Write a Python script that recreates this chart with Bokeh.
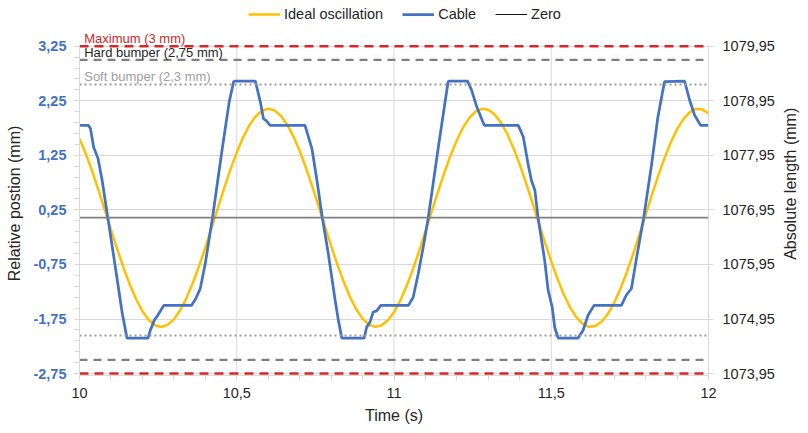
import math
from bokeh.plotting import figure
from bokeh.layouts import column, row
from bokeh.models import (Range1d, LinearAxis, FixedTicker, CustomJSTickFormatter,
                          Legend, LegendItem, Label)
from bokeh.core.properties import value
from bokeh.embed import file_html
from bokeh.resources import INLINE

# ---------------- data ----------------
ideal_t = [10.00, 10.02, 10.04, 10.06, 10.08, 10.10, 10.12, 10.14, 10.16, 10.18,
           10.20, 10.22, 10.24, 10.26, 10.28, 10.30, 10.32, 10.34, 10.36, 10.38,
           10.40, 10.42, 10.44, 10.46, 10.48, 10.50, 10.52, 10.54, 10.56, 10.58,
           10.60, 10.62, 10.64, 10.66, 10.68, 10.70, 10.72, 10.74, 10.76, 10.78,
           10.80, 10.82, 10.84, 10.86, 10.88, 10.90, 10.92, 10.94, 10.96, 10.98,
           11.00, 11.02, 11.04, 11.06, 11.08, 11.10, 11.12, 11.14, 11.16, 11.18,
           11.20, 11.22, 11.24, 11.26, 11.28, 11.30, 11.32, 11.34, 11.36, 11.38,
           11.40, 11.42, 11.44, 11.46, 11.48, 11.50, 11.52, 11.54, 11.56, 11.58,
           11.60, 11.62, 11.64, 11.66, 11.68, 11.70, 11.72, 11.74, 11.76, 11.78,
           11.80, 11.82, 11.84, 11.86, 11.88, 11.90, 11.92, 11.94, 11.96, 11.98,
           12.00]
ideal_pos = [1.556, 1.279, 0.964, 0.619, 0.257, -0.110, -0.470, -0.810, -1.120, -1.388,
             -1.606, -1.767, -1.864, -1.895, -1.858, -1.756, -1.590, -1.367, -1.095, -0.783,
             -0.440, -0.079, 0.288, 0.649, 0.992, 1.304, 1.576, 1.800, 1.965, 2.068,
             2.105, 2.074, 1.977, 1.817, 1.599, 1.331, 1.022, 0.681, 0.321, -0.046,
             -0.408, -0.753, -1.068, -1.345, -1.572, -1.743, -1.852, -1.894, -1.870, -1.778,
             -1.624, -1.411, -1.146, -0.840, -0.502, -0.143, 0.224, 0.587, 0.934, 1.252,
             1.532, 1.764, 1.941, 2.055, 2.103, 2.085, 1.999, 1.850, 1.642, 1.382,
             1.078, 0.742, 0.385, 0.018, -0.345, -0.694, -1.016, -1.300, -1.536, -1.718,
             -1.837, -1.892, -1.879, -1.799, -1.655, -1.452, -1.195, -0.896, -0.563, -0.207,
             0.159, 0.524, 0.875, 1.199, 1.487, 1.728, 1.914, 2.039, 2.100, 2.093,
             2.019]

cable_t = [10.000, 10.028, 10.035, 10.045, 10.059, 10.072, 10.090, 10.114, 10.136, 10.151,
           10.218, 10.225, 10.238, 10.249, 10.268, 10.356, 10.370, 10.384, 10.400, 10.423,
           10.453, 10.476, 10.490, 10.493, 10.559, 10.575, 10.585, 10.593, 10.606, 10.717,
           10.739, 10.755, 10.772, 10.791, 10.813, 10.823, 10.834, 10.905, 10.913, 10.924,
           10.934, 10.945, 10.958, 11.046, 11.061, 11.077, 11.093, 11.109, 11.141, 11.172,
           11.175, 11.234, 11.247, 11.263, 11.287, 11.395, 11.411, 11.426, 11.437, 11.448,
           11.458, 11.479, 11.490, 11.503, 11.511, 11.522, 11.585, 11.601, 11.617, 11.636,
           11.723, 11.739, 11.755, 11.770, 11.794, 11.818, 11.839, 11.860, 11.924, 11.940,
           11.956, 11.975, 12.000]
cable_pos = [1.80, 1.80, 1.74, 1.40, 1.19, 0.79, 0.11, -0.80, -1.65, -2.10,
             -2.10, -1.96, -1.77, -1.68, -1.50, -1.50, -1.375, -1.19, -0.73, 0.11,
             1.34, 2.23, 2.60, 2.61, 2.61, 2.23, 1.92, 1.89, 1.80, 1.80,
             1.375, 0.79, 0.11, -0.55, -1.41, -1.77, -2.10, -2.10, -1.90, -1.80,
             -1.62, -1.60, -1.50, -1.50, -1.35, -0.92, -0.43, 0.11, 1.40, 2.60,
             2.61, 2.61, 2.44, 2.14, 1.80, 1.80, 1.59, 1.10, 0.79, 0.61,
             0.11, -0.67, -1.22, -1.53, -1.90, -2.10, -2.10, -1.96, -1.68, -1.50,
             -1.50, -1.31, -1.19, -0.67, 0.11, 1.04, 1.95, 2.60, 2.61, 2.26,
             1.985, 1.80, 1.80]

time_span = [10.0, 12.0]
zero_level = 0.11
bumper_center = 0.25
limit_names = ["Maximum  (3 mm)", "Hard bumper (2,75 mm)", "Soft bumper (2,3 mm)"]
limit_half = [3.0, 2.75, 2.3]
series_names = ["Ideal oscillation", "Cable", "Zero"]

left_ticks = [-2.75, -1.75, -0.75, 0.25, 1.25, 2.25, 3.25]
left_minor = [-2.75, -2.55, -2.35, -2.15, -1.95, -1.75, -1.55, -1.35, -1.15, -0.95,
              -0.75, -0.55, -0.35, -0.15, 0.05, 0.25, 0.45, 0.65, 0.85, 1.05,
              1.25, 1.45, 1.65, 1.85, 2.05, 2.25, 2.45, 2.65, 2.85, 3.05, 3.25]
right_ticks = [1073.95, 1074.95, 1075.95, 1076.95, 1077.95, 1078.95, 1079.95]
x_ticks = [10.0, 10.5, 11.0, 11.5, 12.0]
x_minor = [10.0, 10.1, 10.2, 10.3, 10.4, 10.5, 10.6, 10.7, 10.8, 10.9, 11.0,
           11.1, 11.2, 11.3, 11.4, 11.5, 11.6, 11.7, 11.8, 11.9, 12.0]
right_title = "Absolute length (mm)"

# ---------------- styles ----------------
FONT = "Liberation Sans"
TXT = "#262626"
GRID = "#D9D9D9"
YELLOW = "#FFC000"
BLUE = "#4472C4"
RED = "#D92626"
ZERO_GRAY = "#808080"
limit_colors = [RED, "#7F7F7F", "#9A9A9A"]
limit_text_colors = ["#D01F1F", "#262626", "#A0A0A0"]
limit_dash = ["9 6", "8 6", "2 3"]
limit_width = [2.5, 2.25, 2.0]
HEAD = 0.27    # room above the top tick for the top label
FOOT = 0.035   # tiny room below the bottom tick so the bottom line is not cut

LEG_H = 31
MAIN_W, MAIN_H = 780, 402
STRIP_W = 28

y_lo = left_ticks[0] - FOOT
y_hi = left_ticks[-1] + HEAD
shift = right_ticks[0] - left_ticks[0]

# ---------------- main chart ----------------
p = figure(width=MAIN_W, height=MAIN_H,
           x_range=Range1d(time_span[0], time_span[1]),
           y_range=Range1d(y_lo, y_hi),
           output_backend="svg", toolbar_location=None,
           min_border_left=79, min_border_right=72,
           min_border_top=0, min_border_bottom=58)
p.extra_y_ranges = {"abs": Range1d(y_lo + shift, y_hi + shift)}
p.outline_line_color = None
p.background_fill_color = "white"
p.border_fill_color = "white"
p.xgrid.visible = False

p.segment(x0=x_ticks, y0=[left_ticks[0]] * len(x_ticks),
          x1=x_ticks, y1=[left_ticks[-1]] * len(x_ticks),
          line_color=GRID, line_width=1)

p.line(ideal_t, ideal_pos, line_color=YELLOW, line_width=2.5)
p.line(cable_t, cable_pos, line_color=BLUE, line_width=2.75)

for half, col, dash, w in zip(limit_half, limit_colors, limit_dash, limit_width):
    for lvl in (bumper_center + half, bumper_center - half):
        p.line(time_span, [lvl, lvl], line_color=col, line_dash=dash, line_width=w)

p.line(time_span, [zero_level, zero_level], line_color=ZERO_GRAY, line_width=1.75)

for name, half, tcol in zip(limit_names, limit_half, limit_text_colors):
    p.add_layout(Label(x=time_span[0] + 0.015, y=bumper_center + half, text=name,
                       text_baseline="bottom", text_align="left",
                       text_font=FONT, text_font_size="13px", text_color=tcol))

xa = p.xaxis[0]
xa.ticker = FixedTicker(ticks=x_ticks, minor_ticks=x_minor)
xa.formatter = CustomJSTickFormatter(code="return String(Math.round(tick*10)/10).replace('.', ',');")
xa.axis_label = "Time (s)"

ya = p.yaxis[0]
ya.ticker = FixedTicker(ticks=left_ticks, minor_ticks=left_minor)
ya.formatter = CustomJSTickFormatter(code="return tick.toFixed(2).replace('.', ',');")
ya.axis_label = "Relative postion (mm)"
ya.major_label_text_color = BLUE
ya.major_label_text_font_style = "bold"
ya.bounds = (y_lo, left_ticks[-1])

ra = LinearAxis(y_range_name="abs")
ra.ticker = FixedTicker(ticks=right_ticks, minor_ticks=[])
ra.formatter = CustomJSTickFormatter(code="return tick.toFixed(2).replace('.', ',');")
ra.bounds = (y_lo + shift, right_ticks[-1])
p.add_layout(ra, "right")

for ax in (xa, ya, ra):
    ax.axis_line_color = GRID
    ax.major_tick_line_color = GRID
    ax.minor_tick_line_color = GRID
    ax.major_tick_in = 0
    ax.minor_tick_in = 0
    ax.major_tick_out = 5
    ax.minor_tick_out = 5
    ax.major_label_text_font = FONT
    ax.major_label_text_font_size = "14.5px"
    ax.axis_label_text_font = FONT
    ax.axis_label_text_font_size = "16px"
    ax.axis_label_text_font_style = "normal"
    ax.axis_label_text_color = TXT
xa.major_label_text_color = TXT
ra.major_label_text_color = TXT
xa.major_label_standoff = 7
xa.axis_label_standoff = 6
ya.major_label_standoff = 8
ya.axis_label_standoff = 7
ra.major_label_standoff = 9

p.ygrid.ticker = FixedTicker(ticks=left_ticks)
p.ygrid.grid_line_color = GRID

# ---------------- legend strip (above) ----------------
lg = figure(width=MAIN_W + STRIP_W, height=LEG_H,
            x_range=Range1d(0, 1), y_range=Range1d(0, 1),
            x_axis_type=None, y_axis_type=None,
            output_backend="svg", toolbar_location=None,
            min_border_left=0, min_border_right=0, min_border_top=0, min_border_bottom=0)
lg.outline_line_color = None
lg.grid.visible = False
# key renderers (their data lies outside this strip's ranges, only the keys show)
k_ideal = lg.line(ideal_t, ideal_pos, line_color=YELLOW, line_width=2.5)
k_cable = lg.line(cable_t, cable_pos, line_color=BLUE, line_width=2.75)
k_zero = lg.line(time_span, [zero_level, zero_level], line_color="#1A1A1A", line_width=1)
legend = Legend(items=[LegendItem(label=series_names[0], renderers=[k_ideal]),
                       LegendItem(label=series_names[1], renderers=[k_cable]),
                       LegendItem(label=series_names[2], renderers=[k_zero])],
                orientation="horizontal", location=(248, 7),
                glyph_width=32, glyph_height=20, label_standoff=4, spacing=19,
                padding=0, margin=0, border_line_color=None,
                background_fill_alpha=0, label_text_font=FONT,
                label_text_font_size="14.5px", label_text_color=TXT)
lg.add_layout(legend)

# ---------------- right title strip ----------------
rt = figure(width=STRIP_W, height=MAIN_H,
            x_range=Range1d(0, STRIP_W), y_range=Range1d(0, MAIN_H),
            x_axis_type=None, y_axis_type=None,
            output_backend="svg", toolbar_location=None,
            min_border_left=0, min_border_right=0, min_border_top=0, min_border_bottom=0)
rt.outline_line_color = None
rt.grid.visible = False
rt.text(x=[10], y=[224], text=[right_title], angle=math.pi / 2,
        text_align="center", text_baseline="middle",
        text_font=value(FONT), text_font_size="16px", text_color=TXT)

layout = column(lg, row(p, rt, spacing=0), spacing=0)
open("out.html", "w").write(file_html(layout, INLINE))
